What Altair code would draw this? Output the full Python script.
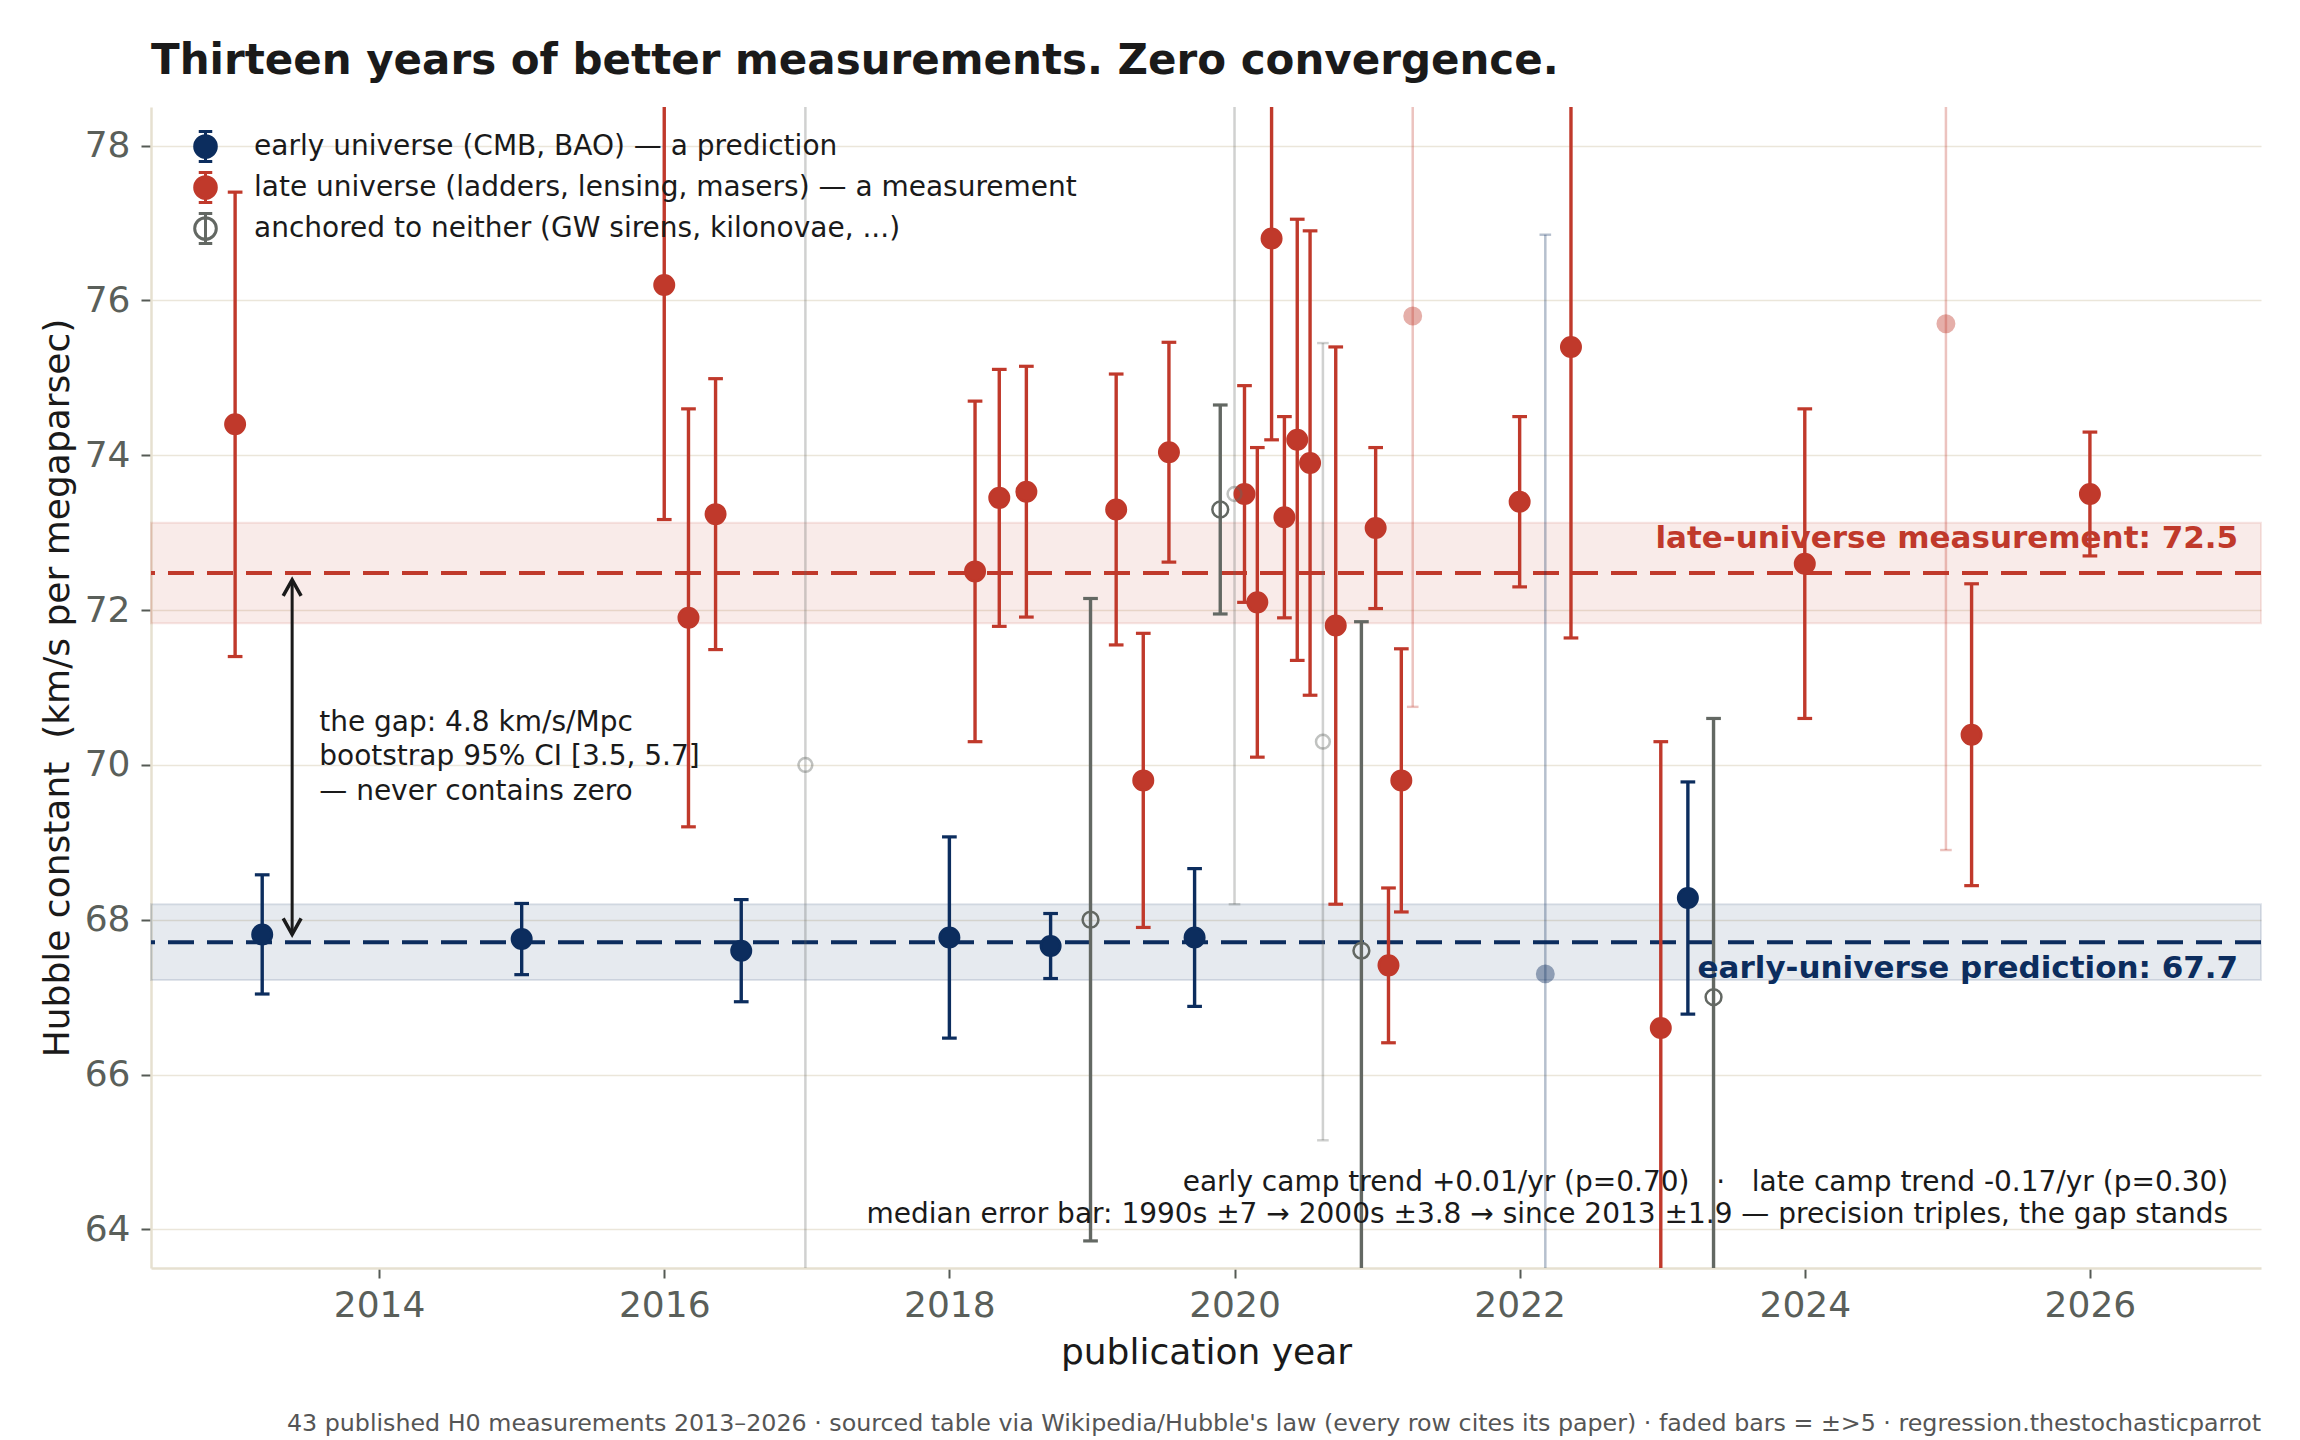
import altair as alt
import pandas as pd

NAVY = "#0c2d5e"
RED = "#c0392b"
GREY = "#636863"
INK = "#1a1a1a"
FONT = "DejaVu Sans"

# ---------------- data ----------------
LBL_EARLY = "early universe (CMB, BAO) — a prediction"
LBL_LATE = "late universe (ladders, lensing, masers) — a measurement"
LBL_NEITHER = "anchored to neither (GW sirens, kilonovae, ...)"
group_labels = [LBL_EARLY, LBL_LATE, LBL_NEITHER]

early_year = [2013.18, 2015.00, 2016.54, 2018.00, 2018.71, 2019.72, 2022.18, 2023.18]
early_h0 = [67.81, 67.75, 67.60, 67.77, 67.66, 67.77, 67.30, 68.28]
early_err = [0.77, 0.46, 0.66, 1.30, 0.42, 0.89, 9.55, 1.50]

late_year = [2012.99, 2016.00, 2016.17, 2016.36, 2018.18, 2018.35, 2018.54, 2019.17,
             2019.36, 2019.54, 2020.07, 2020.16, 2020.26, 2020.35, 2020.44, 2020.53,
             2020.71, 2020.99, 2021.08, 2021.17, 2021.25, 2022.00, 2022.36, 2022.99,
             2024.00, 2024.99, 2025.17, 2026.00]
late_h0 = [74.40, 76.20, 71.90, 73.24, 72.50, 73.45, 73.53, 73.30,
           69.80, 74.04, 73.50, 72.10, 76.80, 73.20, 74.20, 73.90,
           71.80, 73.06, 67.41, 69.80, 75.80, 73.40, 75.40, 66.60,
           72.60, 75.70, 70.39, 73.50]
late_err = [3.00, 3.03, 2.70, 1.75, 2.20, 1.66, 1.62, 1.75,
            1.90, 1.42, 1.40, 2.00, 2.60, 1.30, 2.85, 3.00,
            3.60, 1.04, 1.00, 1.70, 5.05, 1.10, 3.76, 3.70,
            2.00, 6.80, 1.95, 0.80]

neither_year = [2016.99, 2018.99, 2019.90, 2020.00, 2020.62, 2020.89, 2023.36]
neither_h0 = [70.00, 68.00, 73.30, 73.50, 70.30, 67.60, 67.00]
neither_err = [10.00, 4.15, 1.35, 5.30, 5.15, 4.25, 3.60]

early_mean = 67.71
early_band = [67.22, 68.20]
late_mean = 72.48
late_band = [71.83, 73.13]

title_text = "Thirteen years of better measurements. Zero convergence."
gap_lines = ["the gap: 4.8 km/s/Mpc", "bootstrap 95% CI [3.5, 5.7]", "— never contains zero"]
stats_lines = [
    "early camp trend +0.01/yr (p=0.70)\u00a0 \u00a0·\u00a0 \u00a0late camp trend -0.17/yr (p=0.30)",
    "median error bar: 1990s ±7 → 2000s ±3.8 → since 2013 ±1.9 — precision triples, the gap stands",
]
late_label = "late-universe measurement: 72.5"
early_label = "early-universe prediction: 67.7"
footnote = ("43 published H0 measurements 2013–2026 · sourced table via Wikipedia/Hubble's law "
            "(every row cites its paper) · faded bars = ±>5 · regression.thestochasticparrot")

frames = []
for lab, ys, hs, es in [(LBL_EARLY, early_year, early_h0, early_err),
                        (LBL_LATE, late_year, late_h0, late_err),
                        (LBL_NEITHER, neither_year, neither_h0, neither_err)]:
    frames.append(pd.DataFrame({"group": lab, "year": ys, "h0": hs, "err": es}))
df = pd.concat(frames, ignore_index=True)
df["lo"] = df["h0"] - df["err"]
df["hi"] = df["h0"] + df["err"]
df["faded"] = df["err"] > 5

band_df = pd.DataFrame({"camp": ["early", "late"],
                        "lo": [early_band[0], late_band[0]],
                        "hi": [early_band[1], late_band[1]],
                        "mean": [early_mean, late_mean]})
one = pd.DataFrame({"k": [0]})

# ---------------- scales / axes ----------------
W, H = 2110, 1161
XS = alt.Scale(domain=[2012.4, 2027.2], nice=False, zero=False)
YS = alt.Scale(domain=[63.5, 78.5], nice=False, zero=False)
x_axis = alt.Axis(values=list(range(2014, 2027, 2)), format="d", grid=False,
                  title="publication year", titleY=95, titleBaseline="alphabetic",
                  labelPadding=10)
y_axis = alt.Axis(values=list(range(64, 79, 2)), format="d", grid=True,
                  title="Hubble constant\u00a0 (km/s per megaparsec)",
                  titleX=-83, titleAngle=270, titleBaseline="alphabetic",
                  labelPadding=11)


def X(field="year"):
    return alt.X(f"{field}:Q", scale=XS, axis=x_axis)


def Y(field):
    return alt.Y(f"{field}:Q", scale=YS, axis=y_axis)


CAP = "M-1,0L1,0"
LEG = ("M0,-1L0,1M-0.45,-1L0.45,-1M-0.45,1L0.45,1"
       "M0.72,0A0.72,0.72,0,1,1,-0.72,0A0.72,0.72,0,1,1,0.72,0Z")
UP = "M-0.56,1L0,0L0.56,1"
DOWN = "M-0.56,-1L0,0L0.56,-1"

layers = []

# bands and dashed means
for camp, col in [("early", NAVY), ("late", RED)]:
    b = alt.Chart(band_df).transform_filter(alt.datum.camp == camp)
    layers.append(b.mark_rect(fill=col, fillOpacity=0.1, stroke=col, strokeOpacity=0.12,
                              strokeWidth=2).encode(y=Y("lo"), y2="hi:Q"))
    layers.append(b.mark_rule(color=col, strokeWidth=4, strokeDash=[26, 13]).encode(y=Y("mean")))

faded = "datum.faded"
# error bars per camp
for lab, col in zip(group_labels, [NAVY, RED, GREY]):
    base = alt.Chart(df).transform_filter(alt.datum.group == lab)
    layers.append(base.mark_rule(color=col, clip=True).encode(
        x=X(), y=Y("lo"), y2="hi:Q",
        strokeWidth=alt.condition(faded, alt.value(2.5), alt.value(3.4)),
        opacity=alt.condition(faded, alt.value(0.3), alt.value(1.0)),
    ))
    for f in ["lo", "hi"]:
        layers.append(base.mark_point(shape=CAP, filled=False, color=col, clip=True).encode(
            x=X(), y=Y(f),
            size=alt.condition(faded, alt.value(135), alt.value(216)),
            strokeWidth=alt.condition(faded, alt.value(2.4), alt.value(3.2)),
            opacity=alt.condition(faded, alt.value(0.3), alt.value(1.0)),
        ))

legend = alt.Legend(title=None, orient="none", legendX=38, legendY=23,
                    symbolType=LEG, symbolSize=900, symbolStrokeWidth=3,
                    labelFontSize=28, labelColor=INK, labelFont=FONT,
                    labelOffset=32, rowPadding=-2, labelLimit=2000, padding=0)

size_expr = ("datum.err > 5 ? (datum.group == '" + LBL_NEITHER + "' ? 190 : 270)"
             " : (datum.group == '" + LBL_NEITHER + "' ? 250 : 380)")

points = alt.Chart(df).transform_calculate(msize=size_expr).mark_point(
    shape="circle", strokeWidth=2.5, clip=True
).encode(
    x=X(), y=Y("h0"),
    fill=alt.Fill("group:N", scale=alt.Scale(domain=group_labels, range=[NAVY, RED, "transparent"]),
                  legend=legend),
    stroke=alt.Stroke("group:N", scale=alt.Scale(domain=group_labels, range=[NAVY, RED, GREY]),
                      legend=legend),
    size=alt.Size("msize:Q", scale=None),
    opacity=alt.condition(faded, alt.value(0.4), alt.value(1.0)),
)
layers.append(points)

# gap arrow
ann = alt.Chart(one)
layers.append(ann.mark_rule(color=INK, strokeWidth=3).encode(
    x=alt.datum(2013.39), y=alt.datum(67.81), y2=alt.datum(72.39)))
layers.append(ann.mark_point(shape=UP, filled=False, color=INK, strokeWidth=3.5, size=1024, opacity=1).encode(
    x=alt.datum(2013.39), y=alt.datum(72.39)))
layers.append(ann.mark_point(shape=DOWN, filled=False, color=INK, strokeWidth=3.5, size=1024, opacity=1).encode(
    x=alt.datum(2013.39), y=alt.datum(67.81)))

for i, line in enumerate(gap_lines):
    layers.append(ann.mark_text(align="left", baseline="alphabetic", font=FONT, fontSize=28, color=INK).encode(
        x=alt.datum(2013.58), y=alt.datum(70.44 - 0.445 * i), text=alt.value(line)))

for i, line in enumerate(stats_lines):
    layers.append(ann.mark_text(align="right", baseline="alphabetic", font=FONT, fontSize=28, color=INK).encode(
        x=alt.datum(2026.97), y=alt.datum(64.50 - 0.42 * i), text=alt.value(line)))

layers.append(ann.mark_text(align="right", baseline="alphabetic", font=FONT, fontSize=31,
                            fontWeight="bold", color=RED).encode(
    x=alt.datum(2027.04), y=alt.datum(72.80), text=alt.value(late_label)))
layers.append(ann.mark_text(align="right", baseline="alphabetic", font=FONT, fontSize=31,
                            fontWeight="bold", color=NAVY).encode(
    x=alt.datum(2027.04), y=alt.datum(67.25), text=alt.value(early_label)))

# figure title (top-left, above the plot) and footnote (bottom-right)
layers.append(ann.mark_text(align="left", baseline="alphabetic", font=FONT, fontSize=42,
                            fontWeight="bold", color=INK).encode(
    x=alt.value(0), y=alt.value(-33), text=alt.value(title_text)))
layers.append(ann.mark_text(align="right", baseline="alphabetic", font=FONT, fontSize=23.75,
                            color="#555555").encode(
    x=alt.value(W), y=alt.value(1324), text=alt.value(footnote)))

chart = alt.layer(*layers).properties(
    width=W, height=H,
    autosize=alt.AutoSizeParams(type="none"),
    padding={"left": 143, "top": 99, "right": 31, "bottom": 170},
).configure_view(stroke=None).configure_axis(
    domainColor="#e6e0d0", domainWidth=2.5,
    tickColor="#555a55", tickWidth=2, tickSize=10,
    labelColor="#5a5f5a", labelFontSize=36, labelFont=FONT,
    titleFont=FONT, titleFontSize=36, titleFontWeight="normal", titleColor=INK,
    gridColor="#ebe6da", gridWidth=1.6,
)

chart.save("out.html", embed_options={"renderer": "svg", "actions": False})
